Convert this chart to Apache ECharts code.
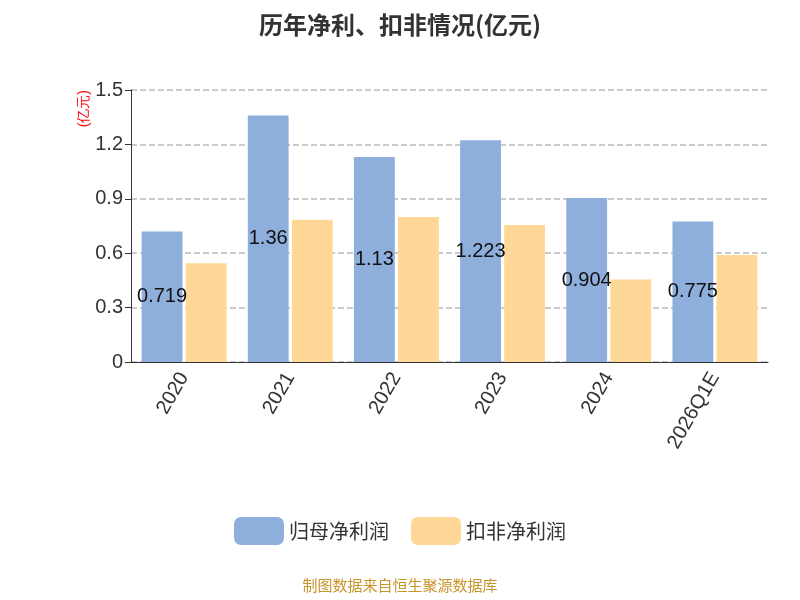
<!DOCTYPE html>
<html><head><meta charset="utf-8">
<script src="https://cdn.jsdelivr.net/npm/echarts@6/dist/echarts.min.js"></script>
<style>html,body{margin:0;padding:0}#c{width:800px;height:600px}</style>
</head><body><div id="c"></div>
<script>
const categories = ['2020','2021','2022','2023','2024','2026Q1E'];
const netProfit = [0.719,1.36,1.13,1.223,0.904,0.775];
const deductedProfit = [0.545,0.785,0.80,0.755,0.455,0.59];
const chart = echarts.init(document.getElementById('c'));
chart.setOption({
  animation:false,
  title:{text:'历年净利、扣非情况(亿元)',left:'center',top:8,textStyle:{fontSize:24,fontWeight:'bold',color:'#333',fontFamily:'Noto Sans CJK SC'}},
  grid:{left:131,right:32,top:90,bottom:238},
  legend:{bottom:50,itemWidth:50,itemHeight:28,itemGap:22,textStyle:{fontSize:20,color:'#333',fontFamily:'Noto Sans CJK SC'},data:['归母净利润','扣非净利润']},
  graphic:[{type:'text',left:'center',top:578,style:{text:'制图数据来自恒生聚源数据库',fill:'#c8952a',fontSize:15,fontFamily:'Noto Sans CJK SC'}}],
  xAxis:{type:'category',data:categories,axisLine:{lineStyle:{color:'#333'}},axisTick:{length:6},
    axisLabel:{rotate:60,fontSize:20,color:'#333',margin:12}},
  yAxis:{type:'value',min:0,max:1.5,interval:0.3,name:'(亿元)',nameLocation:'end',nameRotate:90,nameGap:0,
    nameTextStyle:{color:'red',fontSize:14,align:'right',verticalAlign:'bottom',padding:[0,0,40,0]},
    axisLine:{show:true,lineStyle:{color:'#333'}},axisTick:{show:true,length:6},
    axisLabel:{fontSize:20,color:'#333'},splitLine:{lineStyle:{type:'dashed',color:'#bbb',width:1.5}}},
  series:[
    {name:'归母净利润',type:'bar',data:netProfit,barGap:'8%',barCategoryGap:'20%',itemStyle:{color:'#8eaedb'},
     label:{show:true,position:'inside',fontSize:20,color:'#111'}},
    {name:'扣非净利润',type:'bar',data:deductedProfit,itemStyle:{color:'#ffd897'}}
  ]
});
</script></body></html>
